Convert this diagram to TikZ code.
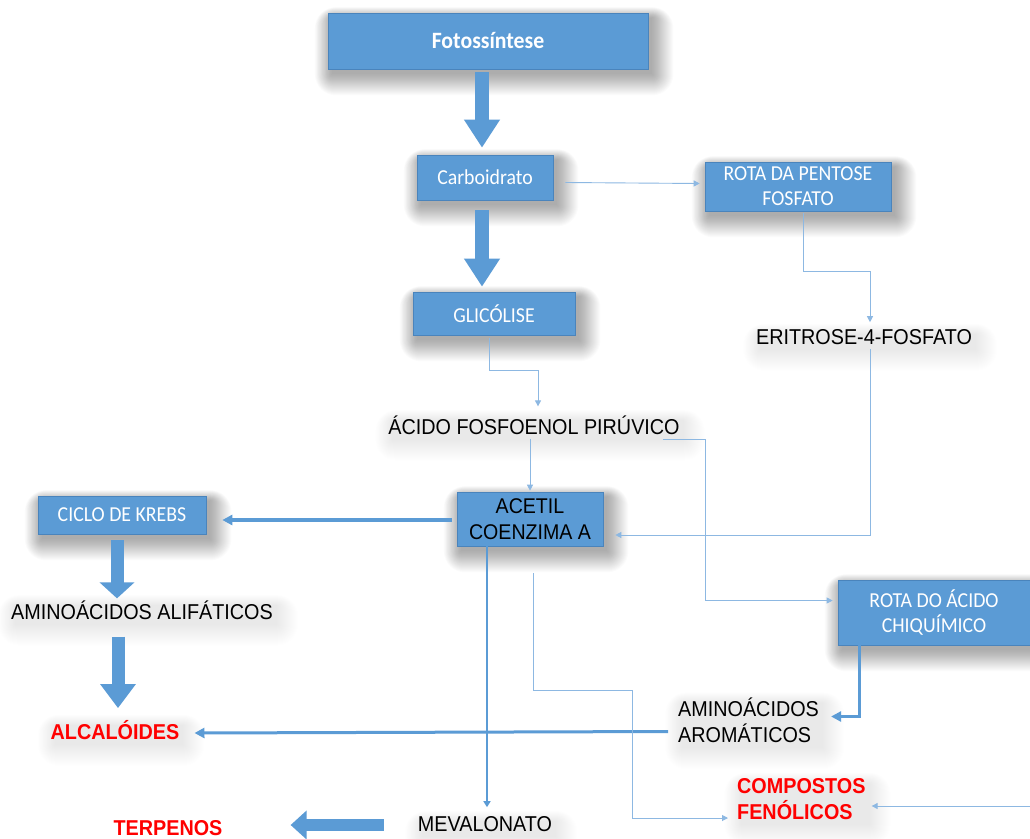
\documentclass[tikz,border=0pt]{standalone}
\usepackage{fontspec}
\setmainfont{Liberation Sans}[FakeStretch=0.92]
\newfontfamily\calfont{Carlito}[FakeStretch=0.93]
\usetikzlibrary{arrows.meta,calc,backgrounds}
\definecolor{bl}{HTML}{5B9BD5}
\definecolor{bd}{HTML}{4A84BC}
\definecolor{ln}{HTML}{8DB8E2}
\definecolor{rd}{HTML}{FF0000}
\newcommand\softshadow[2]{%
 \begin{pgfonlayer}{background}
 \foreach \i in {0,...,21} {
   \fill[black, opacity=#2, rounded corners=\i pt]
     ($(#1.north west)+(4-\i*0.8, 5-\i*0.5)$) rectangle ($(#1.south east)+(4+\i*1.0, 5+\i*1.0)$);
 }
 \end{pgfonlayer}}
\begin{document}
\begin{tikzpicture}[x=1pt,y=-1pt,
  box/.style={fill=bl, draw=bd, line width=0.6pt, text=white,
    font=\calfont\fontsize{21.3}{25}\selectfont, align=center, inner sep=0pt},
  lbl/.style={font=\fontsize{21.5}{26}\selectfont, text=black, inner sep=0pt, align=center},
  red/.style={font=\bfseries\fontsize{21.5}{26}\selectfont, text=rd, inner sep=0pt, align=left},
  thinarr/.style={draw=ln, line width=0.9pt, -{Triangle[length=6pt,width=6pt]}},
  medarr/.style={draw=bl, line width=#1, -{Triangle[length=10pt,width=10pt]}},
  blockarr/.style={draw=bl, line width=14pt, -{Triangle[length=#1,width=34pt]}},
]
\useasboundingbox (0,0) rectangle (1030,838);
\begin{pgfonlayer}{background}
\fill[white] (0,0) rectangle (1030,838);
\end{pgfonlayer}

% boxes
\node[box, minimum width=320pt, minimum height=56pt, font=\calfont\bfseries\fontsize{23.4}{26}\selectfont] (foto) at (488,41) {Fotossíntese};
\node[box, minimum width=136pt, minimum height=45pt] (carb) at (485,177.5) {Carboidrato};
\node[box, minimum width=186pt, minimum height=49pt] (pent) at (798,186.5) {ROTA DA PENTOSE\\FOSFATO};
\node[box, minimum width=162pt, minimum height=43pt] (glic) at (494,313.5) {GLICÓLISE};
\node[box, minimum width=146pt, minimum height=54pt, text=black, font=\fontsize{21.3}{26}\selectfont] (acetil) at (530,519) {ACETIL\\COENZIMA A};
\node[box, minimum width=168pt, minimum height=38pt] (krebs) at (122,515) {CICLO DE KREBS};
\node[box, minimum width=192pt, minimum height=65pt] (chiq) at (934,612.5) {ROTA DO ÁCIDO\\CHIQUÍMICO};

% text labels
\node[lbl] (erit) at (864,337) {ERITROSE-4-FOSFATO};
\node[lbl] (pep) at (534,425) {ÁCIDO FOSFOENOL PIRÚVICO};
\node[lbl] (alif) at (142,610) {AMINOÁCIDOS ALIFÁTICOS};
\node[lbl, anchor=west, align=left] (arom) at (678,720.5) {AMINOÁCIDOS\\AROMÁTICOS};
\node[lbl] (mev) at (485,824) {MEVALONATO};
\node[red] (alc) at (115,730) {ALCALÓIDES};
\node[red] (terp) at (168,828) {TERPENOS};
\node[red, anchor=west] (comp) at (737,799) {COMPOSTOS\\FENÓLICOS};
\coordinate (redge) at (1030,806);

% shadows
\softshadow{foto}{0.016}
\softshadow{carb}{0.016}
\softshadow{pent}{0.016}
\softshadow{glic}{0.016}
\softshadow{acetil}{0.016}
\softshadow{krebs}{0.016}
\softshadow{chiq}{0.016}
\softshadow{erit}{0.004}
\softshadow{pep}{0.004}
\softshadow{alif}{0.004}
\softshadow{arom}{0.004}
\softshadow{mev}{0.004}
\softshadow{alc}{0.004}
\softshadow{comp}{0.004}

% block arrows
\draw[blockarr=28pt] ($(foto.south)+(-6,3)$) -- ($(carb.north)+(-3,-7)$);
\draw[blockarr=28pt] ($(carb.south)+(-3,10)$) -- ($(glic.north)+(-12,-5)$);
\draw[blockarr=16pt, line width=13pt] ($(krebs.south)+(-5,6)$) -- ($(alif.north)+(-25,-2)$);
\draw[blockarr=24pt, line width=13pt] ($(alif.south)+(-24,17)$) -- ($(alc.north)+(3,-12)$);
\draw[draw=bl, line width=12pt, -{Triangle[length=16pt,width=28pt]}] ($(mev.west)+(-34,1)$) -- ($(terp.east)+(68,-3)$);

% medium arrows
\draw[medarr=4pt] ($(acetil.west)+(-5,1)$) -- ($(krebs.east)+(16,5)$);
\draw[medarr=3pt] ($(arom.west)+(-10,11)$) -- ($(alc.east)+(15,3)$);
\draw[medarr=3pt] ($(chiq.south west)+(22,0)$) |- ($(arom.east)+(12,-4)$);
\draw[draw=bl, line width=2.5pt, -{Triangle[length=6pt,width=7pt]}] ($(acetil.south)+(-43,0)$) -- ($(mev.north)+(2,-9)$);

% thin arrows
\draw[thinarr] ($(carb.east)+(12,5)$) -- ($(pent.west)+(-5,-3)$);
\draw[thinarr] ($(pent.south)+(5,2)$) -- ++(0,58) -| ($(erit.north)+(6,-7)$);
\draw[thinarr] ($(glic.south)+(-5,3)$) -- ++(0,32) -| ($(pep.north)+(4,-9)$);
\draw[thinarr] ($(acetil.north |- pep.south)+(0,4)$) -- ($(acetil.north)+(0,-1)$);
\draw[thinarr] ($(erit.south)+(6,4)$) |- ($(acetil.east)+(12,16)$);
\draw[thinarr] ($(pep.south east)+(-17,5)$) -- ++(43,0) |- ($(chiq.west)+(-5,-12)$);
\draw[thinarr] ($(acetil.south)+(3,27)$) -- ++(0,117) -| ($(comp.west)+(-105,19)$) -- ($(comp.west)+(-9,19)$);
\draw[thinarr] (redge) -- ($(comp.east)+(6,7)$);
\end{tikzpicture}
\end{document}
